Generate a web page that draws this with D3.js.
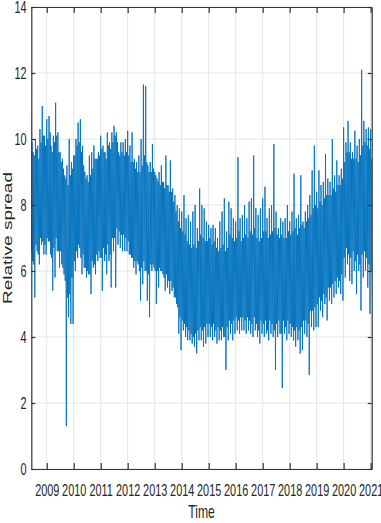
<!DOCTYPE html>
<html>
<head>
<meta charset="utf-8">
<script src="https://cdn.jsdelivr.net/npm/d3@7"></script>
<style>
  html, body { margin: 0; padding: 0; background: #fff; }
  svg { display: block; }
  text { font-family: "Liberation Sans", Arial, Helvetica, sans-serif; fill: #262626; }
</style>
</head>
<body>
<svg id="chart" width="381" height="523"></svg>
<script>
// tick labels
const years = [2009, 2010, 2011, 2012, 2013, 2014, 2015, 2016, 2017, 2018, 2019, 2020, 2021];
const yTicks = [0, 2, 4, 6, 8, 10, 12, 14];

// relative spread, per month.
// sYYYY: the extreme swings of the month (high, low)
// cYYYY: where the dense part of the month sits (high, low)
const s2008 = [10.7,6.3, 9.6,5.2, 10.0,6.6, 9.8,6.2, 10.3,6.8, 11.0,6.5, 10.1,6.5]; // Jun..Dec
const s2009 = [10.6,6.9, 10.7,6.5, 9.8,5.4, 10.1,5.8, 11.1,6.6, 10.2,6.1, 9.6,6.2, 9.4,5.9, 8.9,1.3, 9.2,4.6, 10.0,4.4, 9.3,4.4];
const s2010 = [9.5,6.0, 10.0,6.4, 10.5,6.7, 10.6,5.9, 9.8,6.1, 9.0,5.8, 8.9,5.9, 9.5,5.3, 9.6,6.1, 9.8,5.9, 9.4,6.3, 9.6,6.4];
const s2011 = [10.1,5.4, 9.8,6.3, 9.6,5.9, 10.2,6.3, 9.9,5.5, 10.2,6.6, 10.4,5.5, 10.2,6.8, 9.6,6.7, 9.9,6.6, 9.9,6.6, 10.0,6.6];
const s2012 = [10.25,6.5, 9.8,6.4, 10.2,6.1, 9.4,5.9, 9.3,6.2, 9.5,5.1, 10.0,5.6, 11.65,6.0, 11.6,5.1, 9.2,4.6, 9.3,6.0, 9.85,6.1];
const s2013 = [9.0,5.0, 8.8,5.5, 9.0,6.0, 9.2,5.9, 8.7,5.4, 9.5,5.5, 8.6,5.3, 9.35,5.4, 8.5,5.2, 8.3,5.0, 8.0,4.1, 7.9,3.6];
const s2014 = [7.8,4.2, 8.3,4.0, 7.6,3.9, 7.7,3.9, 7.5,3.8, 7.8,3.7, 8.0,3.5, 7.3,3.9, 8.5,3.9, 8.0,3.7, 7.9,3.8, 7.5,4.0];
const s2015 = [7.4,4.0, 7.3,3.9, 7.4,4.0, 7.3,3.8, 7.0,3.9, 7.5,3.9, 7.8,4.0, 8.2,3.0, 7.2,3.9, 8.1,4.1, 7.9,3.9, 7.6,4.1];
const s2016 = [7.5,4.2, 9.45,4.1, 7.6,4.2, 7.7,4.2, 8.0,4.1, 7.6,4.2, 8.1,4.1, 8.2,4.0, 9.5,4.2, 7.9,4.0, 7.7,3.8, 7.9,4.1];
const s2017 = [8.2,4.0, 8.55,4.1, 7.6,3.9, 7.9,4.1, 8.0,4.0, 9.85,3.0, 7.8,4.0, 7.3,4.1, 7.6,2.45, 7.5,4.1, 7.6,3.9, 8.0,4.1];
const s2018 = [7.5,4.0, 7.8,3.9, 8.95,3.7, 7.6,3.9, 7.7,3.5, 8.9,3.6, 7.5,4.1, 7.8,4.0, 8.0,2.85, 8.3,4.3, 9.05,4.2, 9.8,4.3];
const s2019 = [8.4,4.3, 9.05,4.8, 8.6,4.6, 8.7,5.0, 9.55,4.5, 8.8,5.1, 8.7,5.0, 10.0,5.2, 8.9,5.3, 9.35,5.5, 8.9,5.3, 9.1,5.1];
const s2020 = [10.35,5.8, 9.9,6.2, 10.55,5.7, 9.9,5.6, 9.6,6.0, 10.25,5.3, 9.8,6.0, 10.0,4.8, 12.1,5.8, 10.55,6.0, 10.3,5.5, 10.35,4.7];
const s2021 = [10.3,5.2]; // Jan

const c2008 = [9.9,6.6, 9.5,6.2, 9.7,6.8, 9.4,6.5, 9.9,7.0, 10.1,6.9, 9.8,6.8]; // Jun..Dec
const c2009 = [10.0,7.0, 10.2,6.9, 9.6,6.4, 9.9,6.7, 10.1,7.0, 9.6,6.6, 9.3,6.6, 9.1,6.1, 8.8,5.7, 8.6,5.2, 8.9,5.3, 9.1,5.8];
const c2010 = [9.5,6.3, 9.8,6.6, 9.9,6.8, 9.6,6.4, 9.2,6.5, 8.8,6.1, 8.7,6.0, 8.9,5.9, 9.1,6.3, 9.4,6.2, 9.4,6.5, 9.5,6.6];
const c2011 = [9.7,6.4, 9.6,6.7, 9.4,6.5, 9.8,6.8, 9.7,6.5, 9.9,7.0, 10.1,7.0, 9.9,7.3, 9.5,7.2, 9.6,7.1, 9.5,7.1, 9.6,7.0];
const c2012 = [9.5,6.9, 9.3,6.5, 9.3,6.4, 9.1,6.3, 9.0,6.3, 9.0,6.0, 9.2,6.1, 9.5,6.3, 9.3,6.0, 9.0,5.9, 9.0,6.2, 9.1,6.2];
const c2013 = [8.9,6.0, 8.7,6.0, 8.6,6.1, 8.7,6.0, 8.5,5.8, 8.6,5.9, 8.4,5.7, 8.4,5.7, 8.1,5.5, 7.8,5.2, 7.5,4.9, 7.3,4.6];
const c2014 = [7.2,4.5, 7.1,4.4, 6.9,4.3, 6.8,4.2, 6.7,4.1, 6.8,4.0, 6.7,4.1, 6.9,4.2, 7.1,4.3, 7.0,4.2, 6.9,4.3, 6.9,4.4];
const c2015 = [7.0,4.4, 6.8,4.3, 6.9,4.4, 6.7,4.2, 6.6,4.3, 6.7,4.2, 6.8,4.3, 6.6,4.0, 6.7,4.3, 7.1,4.5, 7.0,4.4, 6.9,4.5];
const c2016 = [7.0,4.6, 7.2,4.5, 6.9,4.6, 7.0,4.6, 7.1,4.5, 7.0,4.6, 7.2,4.5, 7.1,4.4, 7.3,4.6, 7.0,4.4, 6.9,4.2, 7.0,4.5];
const c2017 = [7.2,4.4, 7.2,4.5, 7.0,4.2, 7.1,4.5, 7.2,4.4, 7.3,4.2, 7.1,4.4, 7.0,4.5, 7.1,4.1, 7.0,4.5, 7.0,4.3, 7.2,4.5];
const c2018 = [7.1,4.4, 7.2,4.3, 7.3,4.2, 7.1,4.3, 7.3,4.2, 7.4,4.3, 7.3,4.5, 7.5,4.5, 7.6,4.4, 7.7,4.8, 7.9,4.8, 8.0,4.9];
const c2019 = [7.9,5.0, 8.1,5.2, 8.0,5.1, 8.2,5.3, 8.3,5.2, 8.3,5.5, 8.3,5.5, 8.5,5.6, 8.4,5.7, 8.6,5.8, 8.6,5.7, 8.8,5.9];
const c2020 = [9.3,6.4, 9.6,6.7, 9.6,6.5, 9.4,6.4, 9.4,6.6, 9.4,6.3, 9.3,6.5, 9.5,6.2, 9.8,6.5, 9.9,6.6, 9.8,6.4, 9.7,6.2];
const c2021 = [9.4,6.0]; // Jan

const swings = [].concat(s2008, s2009, s2010, s2011, s2012, s2013, s2014, s2015,
                         s2016, s2017, s2018, s2019, s2020, s2021);
const cores = [].concat(c2008, c2009, c2010, c2011, c2012, c2013, c2014, c2015,
                        c2016, c2017, c2018, c2019, c2020, c2021);

// series starts June 2008; within a month: swing high, core low, core high, swing low
const days = [1, 8, 16, 23];
const data = [];
for (let m = 0; m < swings.length / 2; m++) {
    const vals = [swings[2 * m], cores[2 * m + 1], cores[2 * m], swings[2 * m + 1]];
    vals.forEach((v, k) => data.push({ date: new Date(2008, 5 + m, days[k]), value: v }));
}

const svg = d3.select('#chart');
const width = +svg.attr('width');
const height = +svg.attr('height');
const margin = { top: 7, right: 9.3, bottom: 54, left: 31.3 };
const innerWidth = width - margin.left - margin.right;
const innerHeight = height - margin.top - margin.bottom;
const squeeze = 0.64; // the text in the figure is horizontally condensed

const xScale = d3.scaleTime()
    .domain([new Date(2008, 5, 6), new Date(2021, 0, 15)])
    .range([0, innerWidth]);

const yScale = d3.scaleLinear()
    .domain([0, 14])
    .range([innerHeight, 0]);

const xTickDates = years.map(y => new Date(y, 0, 1));

const g = svg.append('g')
    .attr('transform', `translate(${margin.left}, ${margin.top})`);

// grid
g.append('g').selectAll('line')
    .data(xTickDates)
    .join('line')
    .attr('x1', d => xScale(d)).attr('x2', d => xScale(d))
    .attr('y1', 0).attr('y2', innerHeight)
    .attr('stroke', '#e4e4e4').attr('stroke-width', 1);

g.append('g').selectAll('line')
    .data(yTicks)
    .join('line')
    .attr('x1', 0).attr('x2', innerWidth)
    .attr('y1', d => yScale(d)).attr('y2', d => yScale(d))
    .attr('stroke', '#e4e4e4').attr('stroke-width', 1);

// series
g.append('clipPath').attr('id', 'clip')
    .append('rect').attr('width', innerWidth).attr('height', innerHeight);

const line = d3.line()
    .x(d => xScale(d.date))
    .y(d => yScale(d.value));

g.append('path')
    .datum(data)
    .attr('clip-path', 'url(#clip)')
    .attr('fill', 'none')
    .attr('stroke', '#0072BD')
    .attr('stroke-width', 0.9)
    .attr('stroke-linejoin', 'round')
    .attr('d', line);

// axes
const axisColor = '#333';

const xAxisG = g.append('g')
    .attr('transform', `translate(0, ${innerHeight})`)
    .call(d3.axisBottom(xScale)
        .tickValues(xTickDates)
        .tickFormat(d3.timeFormat('%Y'))
        .tickSize(-6)
        .tickPadding(15)
        .tickSizeOuter(0));

const yAxisG = g.append('g')
    .call(d3.axisLeft(yScale)
        .tickValues(yTicks)
        .tickSize(-4)
        .tickPadding(7.5)
        .tickSizeOuter(0));

g.append('g')
    .call(d3.axisTop(xScale).tickValues(xTickDates).tickFormat('').tickSize(-6).tickSizeOuter(0));

g.append('g')
    .attr('transform', `translate(${innerWidth}, 0)`)
    .call(d3.axisRight(yScale).tickValues(yTicks).tickFormat('').tickSize(-4).tickSizeOuter(0));

g.selectAll('.domain, .tick line')
    .attr('stroke', axisColor)
    .attr('stroke-width', 1.2);

g.selectAll('.tick text')
    .attr('fill', '#262626')
    .attr('font-family', null)
    .attr('font-size', 17)
    .attr('transform', `scale(${squeeze}, 1)`);

// axis titles
g.append('text')
    .attr('transform', `translate(${innerWidth / 2}, ${innerHeight + 49}) scale(${squeeze}, 1)`)
    .attr('text-anchor', 'middle')
    .attr('font-size', 19)
    .text('Time');

g.append('text')
    .attr('transform', `translate(${-margin.left + 12}, ${innerHeight / 2}) scale(${squeeze}, 1) rotate(-90)`)
    .attr('text-anchor', 'middle')
    .attr('font-size', 19)
    .text('Relative spread');
</script>
</body>
</html>
